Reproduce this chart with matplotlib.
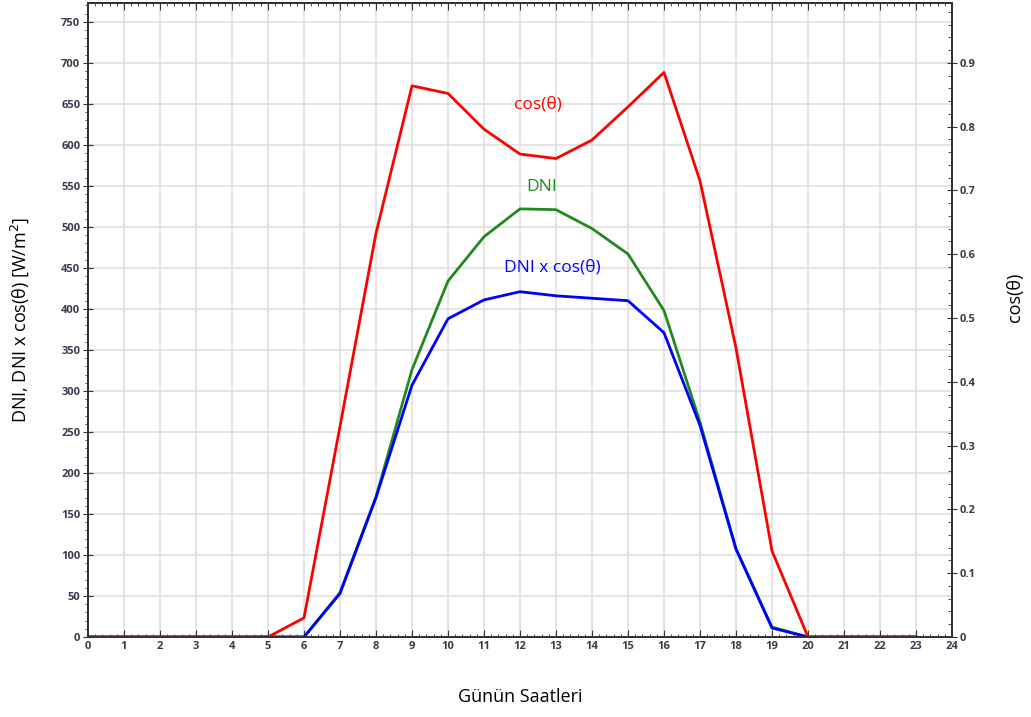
#!/usr/bin/env python3
import matplotlib
matplotlib.use('Agg')
import matplotlib.pyplot as plt
from matplotlib.ticker import MultipleLocator

plt.rcParams['font.family'] = ['Open Sans', 'DejaVu Sans']

# saat (0-23)
hours = list(range(24))

# DNI [W/m2]
dni = [0, 0, 0, 0, 0, 0, 0, 54, 171, 326, 434, 488, 522, 521, 498, 467,
       398, 262, 108, 12, 0, 0, 0, 0]

# DNI x cos(theta) [W/m2]
dni_cos = [0, 0, 0, 0, 0, 0, 0, 53, 170, 307, 388, 411, 421, 416, 413, 410,
           371, 258, 107, 11, 0, 0, 0, 0]

# cos(theta) (sag eksen)
cos_theta = [0, 0, 0, 0, 0, 0, 0.030, 0.330, 0.633, 0.864, 0.852, 0.796,
             0.757, 0.750, 0.779, 0.831, 0.885, 0.715, 0.453, 0.135, 0, 0, 0, 0]

tick_color = '#3a3a4a'
spine_color = '#333333'

fig = plt.figure(figsize=(10.31, 7.17), dpi=100)
ax = fig.add_axes([88 / 1031, 1 - 637 / 717, (952 - 88) / 1031, (637 - 3) / 717])
ax2 = ax.twinx()

ax.plot(hours, dni, color='#1f8a1f', linewidth=2.0, zorder=3)
ax.plot(hours, dni_cos, color='#0000ff', linewidth=2.0, zorder=4)
ax2.plot(hours, cos_theta, color='#ff0000', linewidth=2.0)

ax.set_xlim(0, 24)
ax.set_ylim(0, 773)
ax2.set_ylim(0, 0.9938)

ax.xaxis.set_major_locator(MultipleLocator(1))
ax.xaxis.set_minor_locator(MultipleLocator(0.2))
ax.yaxis.set_major_locator(MultipleLocator(50))
ax.yaxis.set_minor_locator(MultipleLocator(10))
ax2.yaxis.set_major_locator(MultipleLocator(0.1))
ax2.yaxis.set_minor_locator(MultipleLocator(0.02))

ax.grid(True, which='major', color='#dcdcdc', linewidth=1.1)
ax.set_axisbelow(True)

for a in (ax, ax2):
    for s in a.spines.values():
        s.set_color(spine_color)
        s.set_linewidth(1.3)

ax.tick_params(axis='x', which='major', direction='in', length=5, top=True,
               labelsize=8, labelcolor=tick_color, color=spine_color, pad=3)
ax.tick_params(axis='x', which='minor', direction='in', length=2, top=True,
               color=spine_color)
ax.tick_params(axis='y', which='major', direction='inout', length=7,
               labelsize=8, labelcolor=tick_color, color=spine_color, pad=2)
ax.tick_params(axis='y', which='minor', direction='out', length=2,
               color=spine_color)
ax2.tick_params(axis='y', which='major', direction='inout', length=7,
                labelsize=8, labelcolor=tick_color, color=spine_color, pad=2)
ax2.tick_params(axis='y', which='minor', direction='in', length=3,
                color=spine_color)

for lbl in ax.get_xticklabels() + ax.get_yticklabels() + ax2.get_yticklabels():
    lbl.set_fontweight('bold')

ax.yaxis.set_major_formatter(lambda v, p: f'{v:g}')
ax2.yaxis.set_major_formatter(lambda v, p: f'{v:g}')

ax.set_xlabel('Günün Saatleri', fontsize=13, labelpad=26)
ax.set_ylabel('DNI, DNI x cos(θ) [W/m$^2$]', fontsize=13, labelpad=22)
ax2.set_ylabel('cos(θ)', fontsize=13, rotation=90)
ax2.yaxis.set_label_coords(1.062, 0.535)

# seri etiketleri
ax.text(12.5, 649, 'cos(θ)', color='#ff0000', fontsize=12.5, ha='center', va='center')
ax.text(12.6, 549, 'DNI', color='#1f8a1f', fontsize=12.5, ha='center', va='center')
ax.text(12.9, 450, 'DNI x cos(θ)', color='#0000ff', fontsize=12.5, ha='center', va='center')

fig.savefig('out.png', dpi=100)
